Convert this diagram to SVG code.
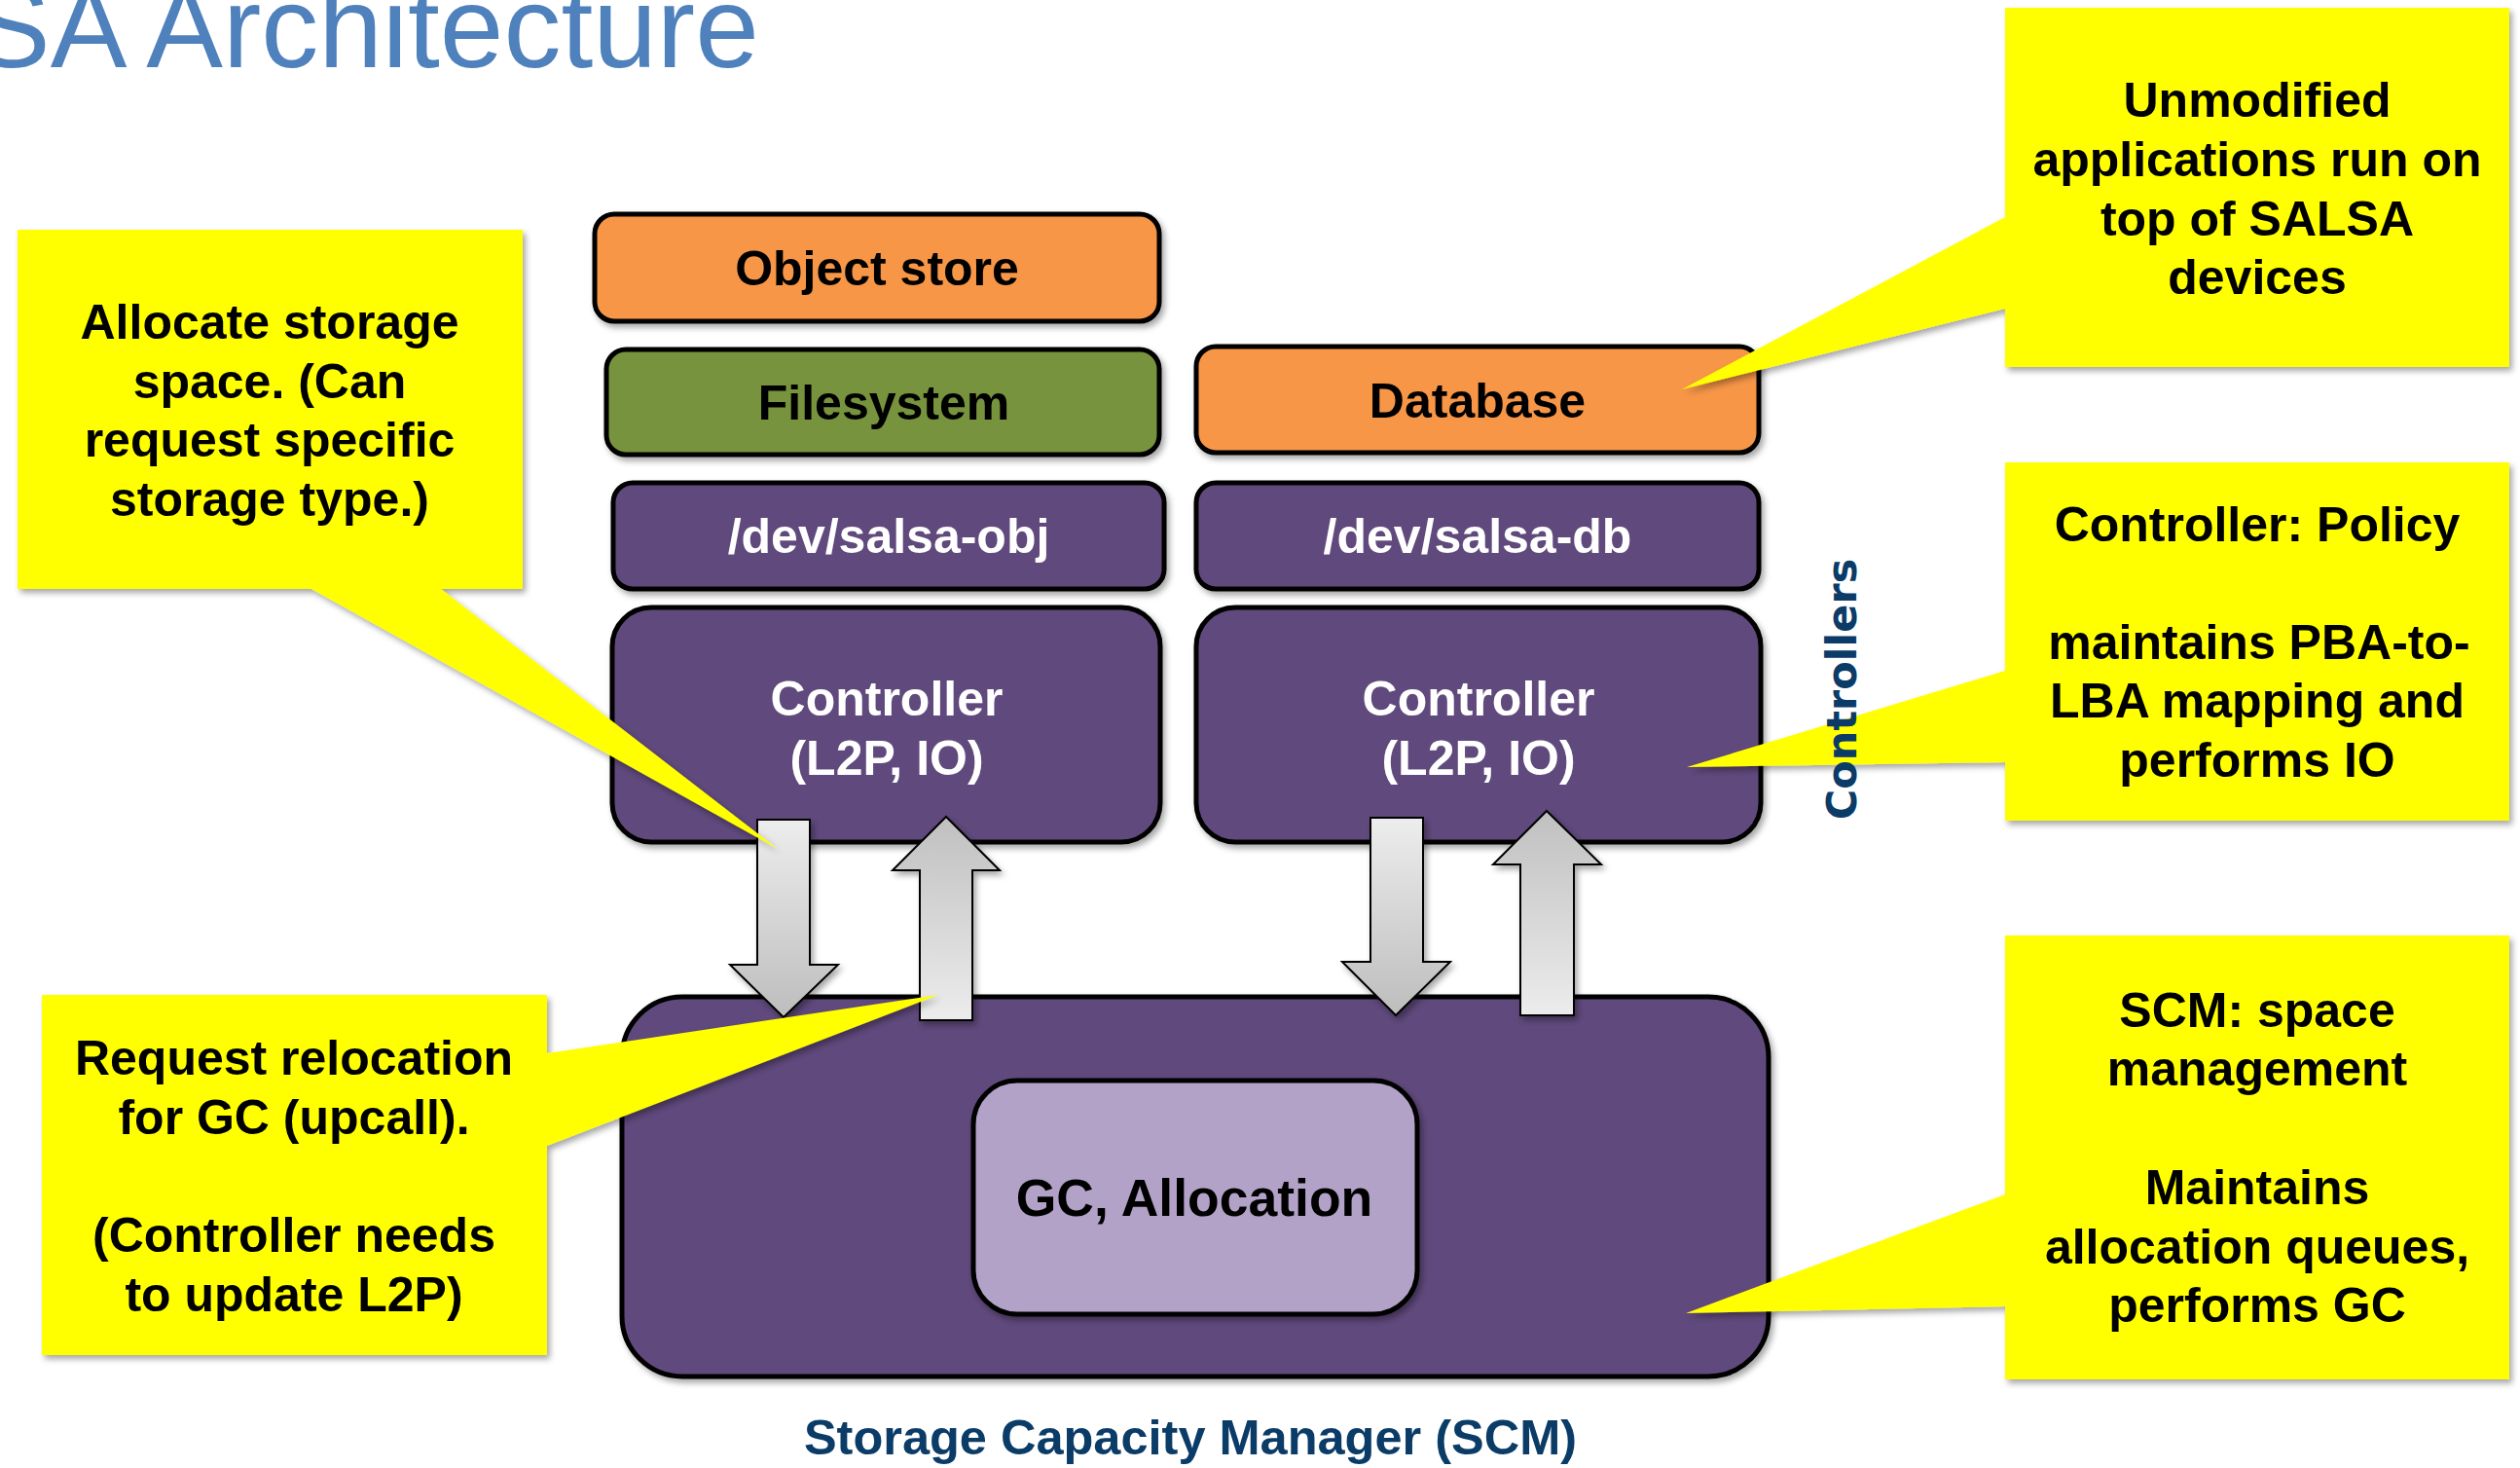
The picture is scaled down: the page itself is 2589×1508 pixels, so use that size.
<svg xmlns="http://www.w3.org/2000/svg" width="2589" height="1508" viewBox="0 0 2589 1508">
<style>
.t{font-family:"Liberation Sans",Arial,sans-serif;font-weight:bold;font-size:50px;text-anchor:middle}
.blk{fill:#000}
.wht{fill:#fff}
.box{stroke:#000;stroke-width:5}
.org{fill:#F79646}
.grn{fill:#77933C}
.pur{fill:#604A7B}
.lpur{fill:#B3A2C7}
.call{fill:#FFFF00}
.arr{stroke:#000;stroke-width:2}
.navy{fill:#0B3C68}
</style>
<defs>
<filter id="sh" x="-10%" y="-10%" width="130%" height="130%">
<feDropShadow dx="3" dy="4" stdDeviation="3" flood-color="#000" flood-opacity="0.35"/>
</filter>
<linearGradient id="gDown" x1="0" y1="0" x2="0" y2="1">
<stop offset="0" stop-color="#EDEDED"/>
<stop offset="1" stop-color="#BDBDBD"/>
</linearGradient>
<linearGradient id="gUp" x1="0" y1="0" x2="0" y2="1">
<stop offset="0" stop-color="#C0C0C0"/>
<stop offset="1" stop-color="#ECECEC"/>
</linearGradient>
</defs>
<rect width="2589" height="1508" fill="#fff"/>
<text x="-27" y="69" font-family="Liberation Sans,Arial,sans-serif" font-size="118" fill="#4F81BD">SA Architecture</text>

<g id="object-store" filter="url(#sh)">
<rect class="box org" x="611" y="220" width="580" height="110" rx="20"/>
<text class="t blk" x="901" y="293">Object store</text>
</g>
<g id="filesystem" filter="url(#sh)">
<rect class="box grn" x="623" y="359" width="568" height="108" rx="20"/>
<text class="t blk" x="908" y="431">Filesystem</text>
</g>
<g id="database" filter="url(#sh)">
<rect class="box org" x="1229" y="356" width="578" height="109" rx="20"/>
<text class="t blk" x="1518" y="429">Database</text>
</g>
<g id="dev-salsa-obj" filter="url(#sh)">
<rect class="box pur" x="630" y="496" width="566" height="109" rx="20"/>
<text class="t wht" x="913" y="568">/dev/salsa-obj</text>
</g>
<g id="dev-salsa-db" filter="url(#sh)">
<rect class="box pur" x="1229" y="496" width="578" height="109" rx="20"/>
<text class="t wht" x="1518" y="568">/dev/salsa-db</text>
</g>
<g id="controller-left" filter="url(#sh)">
<rect class="box pur" x="629" y="624" width="563" height="241" rx="40"/>
<text class="t wht" x="911" y="735">Controller</text>
<text class="t wht" x="911" y="796">(L2P, IO)</text>
</g>
<g id="controller-right" filter="url(#sh)">
<rect class="box pur" x="1229" y="624" width="580" height="241" rx="40"/>
<text class="t wht" x="1519" y="735">Controller</text>
<text class="t wht" x="1519" y="796">(L2P, IO)</text>
</g>
<g id="scm" filter="url(#sh)">
<rect class="box pur" x="639" y="1024" width="1178" height="390" rx="62"/>
</g>
<g id="gc-allocation" filter="url(#sh)">
<rect class="box lpur" x="1000" y="1110" width="456" height="240" rx="45"/>
<text class="t blk" x="1227" y="1249" style="font-size:53.5px">GC, Allocation</text>
</g>
<text class="t navy" x="1223" y="1494" style="font-size:50.5px">Storage Capacity Manager (SCM)</text>

<g id="connectors" filter="url(#sh)">
<polygon class="arr" fill="url(#gDown)" points="778,842 832,842 832,991 861,991 805,1045 750,991 778,991"/>
<polygon class="arr" fill="url(#gUp)" points="972,839 1027,894 999,894 999,1048 945,1048 945,894 917,894"/>
<polygon class="arr" fill="url(#gDown)" points="1408,840 1462,840 1462,988 1490,988 1434,1043 1379,988 1408,988"/>
<polygon class="arr" fill="url(#gUp)" points="1589,833 1645,888 1617,888 1617,1043 1562,1043 1562,888 1534,888"/>
</g>

<g id="callout-allocate" filter="url(#sh)">
<path class="call" d="M18,236 H537 V605 H453 L799,872 L320,605 H18 Z"/>
<text class="t blk" x="277" y="348">Allocate storage</text>
<text class="t blk" x="277" y="409">space. (Can</text>
<text class="t blk" x="277" y="469">request specific</text>
<text class="t blk" x="277" y="530">storage type.)</text>
</g>
<g id="callout-unmodified" filter="url(#sh)">
<path class="call" d="M2060,8 H2578 V377 H2060 V317 L1728,400 L2060,223 Z"/>
<text class="t blk" x="2319" y="120">Unmodified</text>
<text class="t blk" x="2319" y="181">applications run on</text>
<text class="t blk" x="2319" y="242">top of SALSA</text>
<text class="t blk" x="2319" y="302">devices</text>
</g>
<g id="callout-controller" filter="url(#sh)">
<path class="call" d="M2060,475 H2578 V843 H2060 V783 L1733,788 L2060,689 Z"/>
<text class="t blk" x="2319" y="556">Controller: Policy</text>
<text class="t blk" x="2321" y="677">maintains PBA-to-</text>
<text class="t blk" x="2319" y="737">LBA mapping and</text>
<text class="t blk" x="2319" y="798">performs IO</text>
</g>
<g id="callout-relocation" filter="url(#sh)">
<path class="call" d="M43,1022 H562 V1082 L964,1022 L562,1177 V1392 H43 Z"/>
<text class="t blk" x="302" y="1104">Request relocation</text>
<text class="t blk" x="302" y="1165">for GC (upcall).</text>
<text class="t blk" x="302" y="1286">(Controller needs</text>
<text class="t blk" x="302" y="1347">to update L2P)</text>
</g>
<g id="callout-scm" filter="url(#sh)">
<path class="call" d="M2060,961 H2578 V1417 H2060 V1342 L1732,1349 L2060,1227 Z"/>
<text class="t blk" x="2319" y="1055">SCM: space</text>
<text class="t blk" x="2319" y="1115">management</text>
<text class="t blk" x="2319" y="1237">Maintains</text>
<text class="t blk" x="2319" y="1298">allocation queues,</text>
<text class="t blk" x="2319" y="1358">performs GC</text>
</g>
<text transform="translate(1907,708) rotate(-90)" x="0" y="0" font-family="DejaVu Sans,Verdana,sans-serif" font-weight="bold" font-size="43" text-anchor="middle" class="navy">Controllers</text>
</svg>
